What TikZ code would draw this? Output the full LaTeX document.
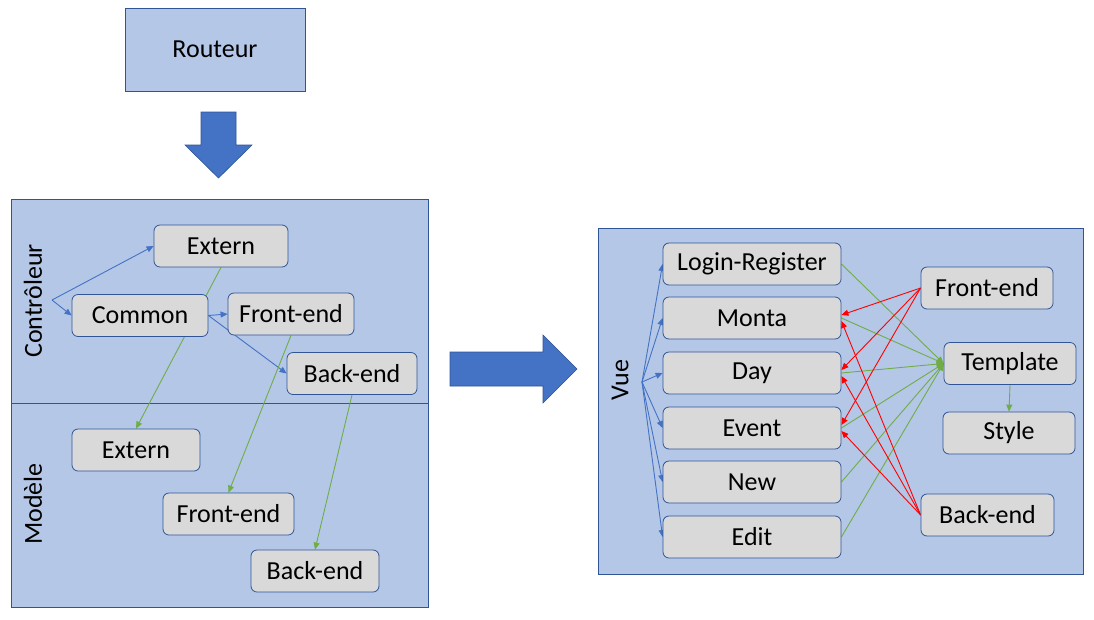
\documentclass[tikz,border=0pt]{standalone}
\usepackage{fontspec}
\setmainfont{Carlito}
\usetikzlibrary{arrows.meta}
\definecolor{panelfill}{HTML}{B4C7E7}
\definecolor{panelline}{HTML}{2F5597}
\definecolor{boxfill}{HTML}{D9D9D9}
\definecolor{arrblue}{HTML}{4472C4}
\definecolor{arrgreen}{HTML}{70AD47}
\definecolor{arrred}{HTML}{FF0000}
\pgfdeclarelayer{panel}
\pgfdeclarelayer{conn}
\pgfsetlayers{panel,conn,main}
\tikzset{
  panel/.style={fill=panelfill,draw=panelline,line width=0.9pt},
  txt/.style={font=\fontsize{26}{30}\selectfont},
  box/.style={txt,draw=panelline,fill=boxfill,rounded corners=6pt,line width=0.8pt,
    minimum height=42pt,inner sep=0pt},
  label/.style={txt,rotate=90},
  bl/.style={draw=arrblue,line width=0.9pt,-{Triangle[length=7pt,width=6pt]}},
  gr/.style={draw=arrgreen,line width=0.9pt,-{Triangle[length=7pt,width=6pt]}},
  rd/.style={draw=arrred,line width=0.9pt,-{Triangle[length=7pt,width=6pt]}},
  bigarrow/.style={fill=arrblue,draw=panelline,line width=0.6pt}
}
\begin{document}
\begin{tikzpicture}[x=1pt,y=-1pt]
\useasboundingbox (0,0) rectangle (1094,619);
\begin{pgfonlayer}{panel}
  \path[panel] (11,199) rectangle (428,607);
  \draw[panelline,line width=0.9pt] (11,403) -- (428,403);
  \path[panel] (598,228) rectangle (1083,574);
  \path[bigarrow] (201,112) -- (236,112) -- (236,145) -- (252,145) -- (218.5,178) -- (185,145) -- (201,145) -- cycle;
  \path[bigarrow] (450,352) -- (543,352) -- (543,335) -- (577,369) -- (543,403) -- (543,386) -- (450,386) -- cycle;
\end{pgfonlayer}

\node[txt,draw=panelline,fill=panelfill,line width=0.9pt,minimum width=180pt,minimum height=83pt,inner sep=0pt] (routeur) at (215,49.5) {Routeur};

\node[label] (lctrl) at (33,301) {Contrôleur};
\node[label] (lmod) at (33,504) {Modèle};
\node[label] (lvue) at (620,380) {Vue};

% Contrôleur
\node[box,minimum width=134pt] (cext) at (221,246) {Extern};
\node[box,minimum width=136pt] (ccom) at (140,315.5) {Common};
\node[box,minimum width=126pt] (cfront) at (291,314) {Front-end};
\node[box,minimum width=130pt] (cback) at (352,373.5) {Back-end};
% Modèle
\node[box,minimum width=128pt] (mext) at (136,450) {Extern};
\node[box,minimum width=131pt] (mfront) at (228.5,514) {Front-end};
\node[box,minimum width=128pt] (mback) at (315,571) {Back-end};

% Vue
\node[box,minimum width=178pt] (login) at (752,264) {Login-Register};
\node[box,minimum width=178pt] (monta) at (752,318) {Monta};
\node[box,minimum width=178pt] (day) at (752,373) {Day};
\node[box,minimum width=178pt] (event) at (752,428) {Event};
\node[box,minimum width=178pt] (new) at (752,482) {New};
\node[box,minimum width=178pt] (edit) at (752,537) {Edit};
\node[box,minimum width=132pt] (vfront) at (987,288) {Front-end};
\node[box,minimum width=132pt] (tmpl) at (1010,363.5) {Template};
\node[box,minimum width=132pt] (style) at (1009,433) {Style};
\node[box,minimum width=133pt] (vback) at (987.5,515) {Back-end};

\coordinate (csrc) at (52,300);
\coordinate (vsrc) at (642,382);

\begin{pgfonlayer}{conn}
  \draw[bl] (csrc) -- (cext.west);
  \draw[bl] (csrc) -- (ccom.west);
  \draw[bl] (ccom.east) -- (cfront.west);
  \draw[bl] (ccom.east) -- (cback.west);
  \draw[gr] (cext.south) -- (mext.north);
  \draw[gr] (cfront.south) -- (mfront.north);
  \draw[gr] (cback.south) -- (mback.north);

  \foreach \n in {login,monta,day,event,new,edit}{
    \draw[bl] (vsrc) -- (\n.west);
  }
  \foreach \n in {login,monta,day,event,new,edit}{
    \draw[gr] (\n.east) -- (tmpl.west);
  }
  \foreach \n in {monta,day,event}{
    \draw[rd] (vfront.west) -- ([yshift=3pt]\n.east);
    \draw[rd] (vback.west) -- ([yshift=-3pt]\n.east);
  }
  \draw[gr] (tmpl.south) -- (style.north);
\end{pgfonlayer}
\end{tikzpicture}
\end{document}
